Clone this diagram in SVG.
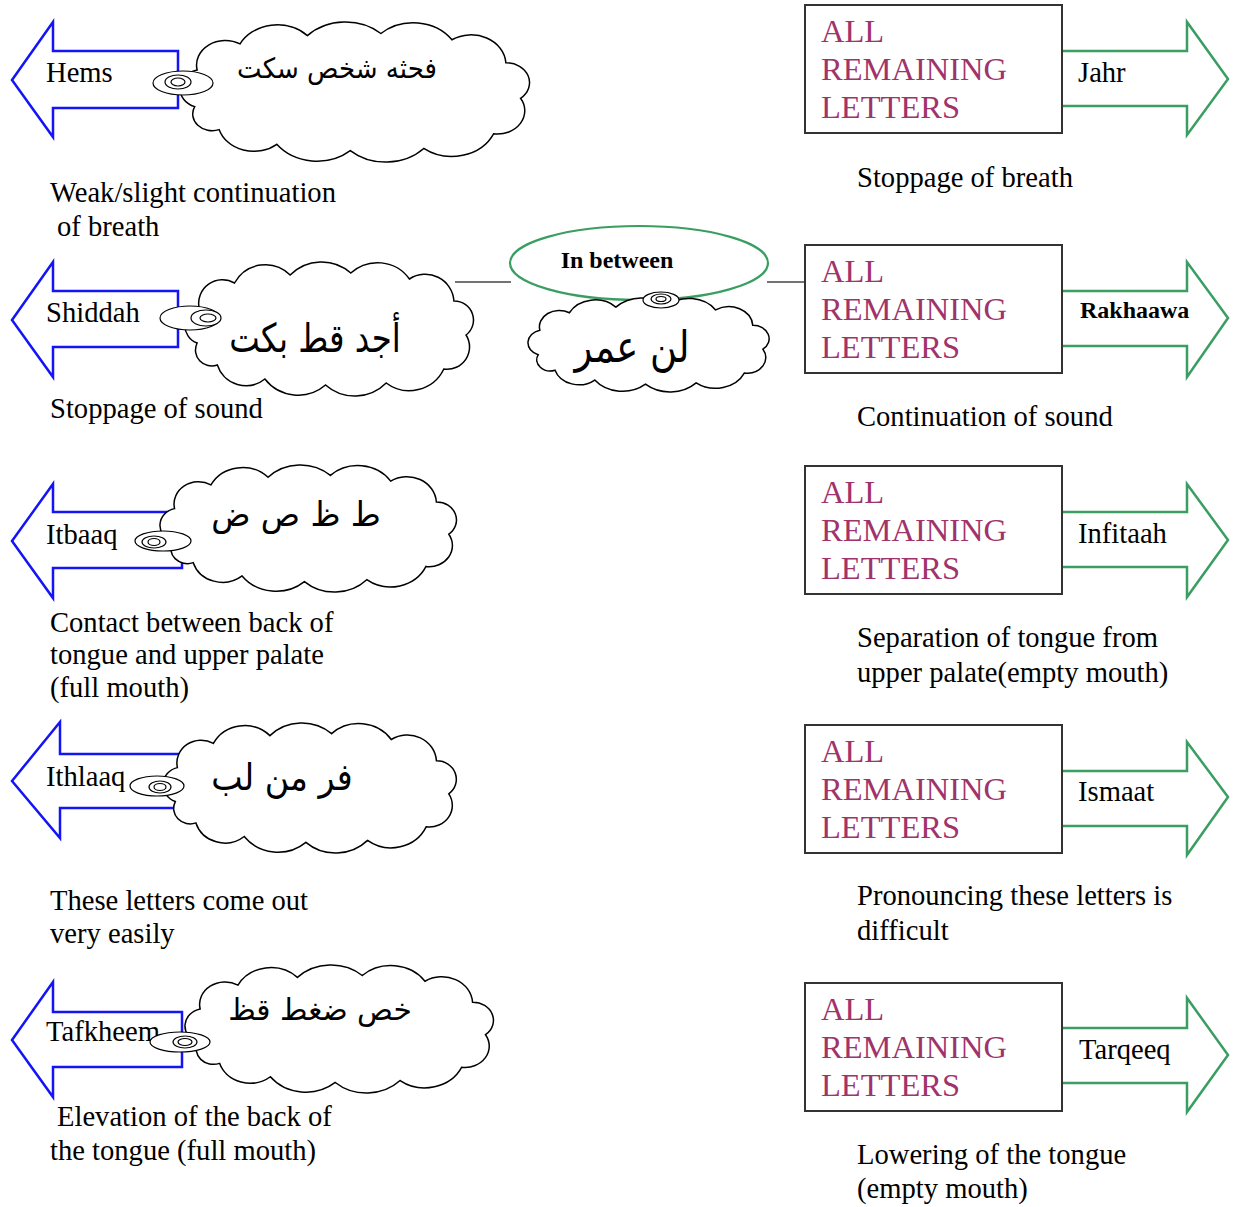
<svg xmlns="http://www.w3.org/2000/svg" width="1233" height="1207" viewBox="0 0 1233 1207">
<style>
text { font-family: "Liberation Serif", "Times New Roman", serif; font-size: 28.6px; fill: #000; }
.ar { font-family: "DejaVu Sans", sans-serif; text-anchor: middle; }
.bold { font-weight: bold; }
.blue { fill: #fff; stroke: #1414f5; stroke-width: 2.5; }
.green { fill: none; stroke: #3a9e62; stroke-width: 2.5; }
.box { fill: #fff; stroke: #333; stroke-width: 2; }
.rem { fill: #a0336b; font-size: 32.5px; }
.cloud { fill: #fff; stroke: #000; stroke-width: 1.5; vector-effect: non-scaling-stroke; }
.tail { fill: #fff; stroke: #000; stroke-width: 1.2; }
.conn { stroke: #444; stroke-width: 1.5; fill: none; }
.oval { fill: none; stroke: #3a9e62; stroke-width: 2.2; }
</style>
<defs>
<path id="cloudShape" class="cloud" d="M12,81 A18.3,18.3 0 0 1 14,46 A23.5,23.5 0 0 1 49,21 A34.5,34.5 0 0 1 104,13 A43.5,43.5 0 0 1 164,11 A38.8,38.8 0 0 1 222,17 A28.4,28.4 0 0 1 266,39 A19,19 0 0 1 278,73 A22.3,22.3 0 0 1 256,107 A37.8,37.8 0 0 1 199,121 A43.5,43.5 0 0 1 139,123 A41.5,41.5 0 0 1 79,117 A29.6,29.6 0 0 1 32,103 A16,16 0 0 1 12,81 Z"/>
</defs>
<rect width="1233" height="1207" fill="#fff"/>

<g id="connectors">
<line class="conn" x1="455" y1="282" x2="511" y2="282"/>
<line class="conn" x1="767" y1="282" x2="805" y2="282"/>
</g>

<!-- Left column -->
<g id="hems">
<path class="blue" d="M178,51 H53 V22 L12,80 L53,137 V108 H178 Z"/>
<use href="#cloudShape" transform="translate(180 22) scale(1.225 1.045)"/>
<ellipse class="tail" cx="183" cy="83" rx="30" ry="12"/>
<ellipse class="tail" cx="178" cy="82" rx="13" ry="7"/>
<ellipse class="tail" cx="178" cy="82" rx="7" ry="4"/>
<text x="46" y="82">Hems</text>
<text class="ar" transform="translate(337 78) scale(0.93 1)" style="font-size:28px">فحثه شخص سكت</text>
<text x="50" y="202">Weak/slight continuation</text>
<text x="57" y="236">of breath</text>
</g>

<g id="shiddah">
<path class="blue" d="M178,291 H53 V262 L12,320 L53,377 V347 H178 Z"/>
<use href="#cloudShape" transform="translate(185 262) scale(1.011 1.0)"/>
<ellipse class="tail" cx="190" cy="318" rx="30" ry="12"/>
<ellipse class="tail" cx="206" cy="318" rx="15" ry="8"/>
<ellipse class="tail" cx="208" cy="318" rx="8" ry="4"/>
<text x="46" y="322">Shiddah</text>
<text class="ar" transform="translate(315 352) scale(0.81 1)" style="font-size:40px">أجد قط بكت</text>
<text x="50" y="418">Stoppage of sound</text>
</g>

<g id="itbaaq">
<path class="blue" d="M182,512 H53 V484 L12,541 L53,598 V568 H182 Z"/>
<use href="#cloudShape" transform="translate(160 465) scale(1.039 0.948)"/>
<ellipse class="tail" cx="163" cy="541" rx="28" ry="10"/>
<ellipse class="tail" cx="154" cy="542" rx="12" ry="6"/>
<ellipse class="tail" cx="154" cy="542" rx="6" ry="3.5"/>
<text x="46" y="544">Itbaaq</text>
<text class="ar" transform="translate(296 526) scale(0.955 1)" style="font-size:34px">ط ظ ص ض</text>
<text x="50" y="632">Contact between back of</text>
<text x="50" y="664">tongue and upper palate</text>
<text x="50" y="697">(full mouth)</text>
</g>

<g id="ithlaaq">
<path class="blue" d="M182,754 H60 V722 L12,781 L60,838 V808 H182 Z"/>
<use href="#cloudShape" transform="translate(163 723) scale(1.028 0.970)"/>
<ellipse class="tail" cx="157" cy="786" rx="27" ry="10"/>
<ellipse class="tail" cx="160" cy="787" rx="11" ry="6"/>
<ellipse class="tail" cx="160" cy="787" rx="6" ry="3.5"/>
<text x="46" y="786">Ithlaaq</text>
<text class="ar" transform="translate(282 790) scale(0.9 1)" style="font-size:37px">فر من لب</text>
<text x="50" y="910">These letters come out</text>
<text x="50" y="943">very easily</text>
</g>

<g id="tafkheem">
<path class="blue" d="M182,1012 H53 V982 L12,1040 L53,1097 V1067 H182 Z"/>
<use href="#cloudShape" transform="translate(185 965) scale(1.081 0.955)"/>
<text x="46" y="1041">Tafkheem</text>
<ellipse class="tail" cx="180" cy="1042" rx="30" ry="10"/>
<ellipse class="tail" cx="185" cy="1042" rx="12" ry="6"/>
<ellipse class="tail" cx="185" cy="1042" rx="7" ry="3.5"/>
<text class="ar" transform="translate(320 1020) scale(0.99 1)" style="font-size:30px">خص ضغط قظ</text>
<text x="57" y="1126">Elevation of the back of</text>
<text x="50" y="1160">the tongue (full mouth)</text>
</g>

<!-- Middle -->
<g id="in-between">
<ellipse class="oval" cx="639" cy="263" rx="129" ry="37"/>
<text class="bold" x="617" y="268" style="font-size:24px" text-anchor="middle">In between</text>
</g>
<g id="lan-umar">
<use href="#cloudShape" transform="translate(528 298) scale(0.845 0.701)"/>
<ellipse class="tail" cx="661" cy="300" rx="18" ry="8"/>
<ellipse class="tail" cx="661" cy="299" rx="10" ry="5"/>
<ellipse class="tail" cx="661" cy="299" rx="5" ry="2.5"/>
<text class="ar" transform="translate(632 362) scale(0.84 1)" style="font-size:44px">لن عمر</text>
</g>

<!-- Right column -->
<g id="jahr">
<path class="green" d="M1062,51 H1187 V22 L1228,79 L1187,135 V106 H1062"/>
<rect class="box" x="805" y="5" width="257" height="128"/>
<text class="rem" x="821" y="42">ALL</text>
<text class="rem" x="821" y="80">REMAINING</text>
<text class="rem" x="821" y="118">LETTERS</text>
<text x="1078" y="82">Jahr</text>
<text x="857" y="187">Stoppage of breath</text>
</g>

<g id="rakhaawa">
<path class="green" d="M1062,291 H1187 V262 L1228,318 L1187,377 V346 H1062"/>
<rect class="box" x="805" y="245" width="257" height="128"/>
<text class="rem" x="821" y="282">ALL</text>
<text class="rem" x="821" y="320">REMAINING</text>
<text class="rem" x="821" y="358">LETTERS</text>
<text class="bold" x="1080" y="318" style="font-size:24px">Rakhaawa</text>
<text x="857" y="426">Continuation of sound</text>
</g>

<g id="infitaah">
<path class="green" d="M1062,512 H1187 V484 L1228,540 L1187,597 V567 H1062"/>
<rect class="box" x="805" y="466" width="257" height="128"/>
<text class="rem" x="821" y="503">ALL</text>
<text class="rem" x="821" y="541">REMAINING</text>
<text class="rem" x="821" y="579">LETTERS</text>
<text x="1078" y="543">Infitaah</text>
<text x="857" y="647">Separation of tongue from</text>
<text x="857" y="682">upper palate(empty mouth)</text>
</g>

<g id="ismaat">
<path class="green" d="M1062,771 H1187 V742 L1228,797 L1187,855 V826 H1062"/>
<rect class="box" x="805" y="725" width="257" height="128"/>
<text class="rem" x="821" y="762">ALL</text>
<text class="rem" x="821" y="800">REMAINING</text>
<text class="rem" x="821" y="838">LETTERS</text>
<text x="1078" y="801">Ismaat</text>
<text x="857" y="905">Pronouncing these letters is</text>
<text x="857" y="940">difficult</text>
</g>

<g id="tarqeeq">
<path class="green" d="M1062,1028 H1187 V998 L1228,1055 L1187,1112 V1083 H1062"/>
<rect class="box" x="805" y="983" width="257" height="128"/>
<text class="rem" x="821" y="1020">ALL</text>
<text class="rem" x="821" y="1058">REMAINING</text>
<text class="rem" x="821" y="1096">LETTERS</text>
<text x="1079" y="1059">Tarqeeq</text>
<text x="857" y="1164">Lowering of the tongue</text>
<text x="857" y="1198">(empty mouth)</text>
</g>
</svg>
